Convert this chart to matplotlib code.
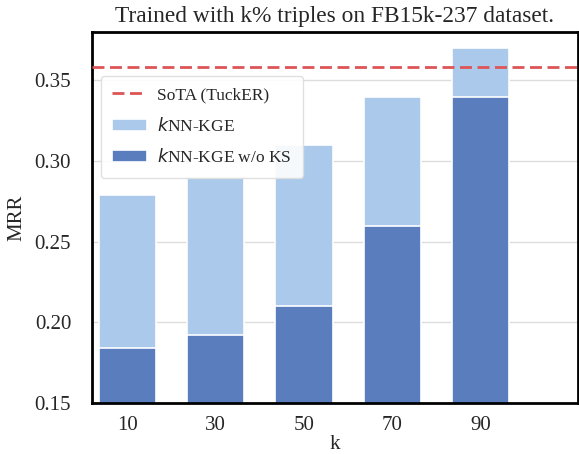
import numpy as np
import matplotlib
matplotlib.use("Agg")
import matplotlib.pyplot as plt
import seaborn as sns

# values
k_values = ["10", "30", "50", "70", "90"]
mrr_knn_kge = [0.279, 0.290, 0.310, 0.340, 0.370]
mrr_wo_ks = [0.184, 0.192, 0.210, 0.260, 0.340]
sota_tucker = 0.358

sns.set_style("whitegrid")
plt.rcParams['font.family'] = ['Liberation Serif', 'DejaVu Serif']
plt.rcParams['mathtext.fontset'] = 'dejavusans'

fig = plt.figure(figsize=(5.79, 4.54), dpi=100)
ax = fig.add_axes([0.159, 0.1123, 0.839, 0.8172])

x = np.arange(len(k_values))
ax.bar(x, mrr_knn_kge, width=0.65, color="#abc9eb", edgecolor="white",
       linewidth=1.2, label=r"$k$NN-KGE", zorder=2)
ax.bar(x, mrr_wo_ks, width=0.65, color="#5a7dbe", edgecolor="white",
       linewidth=1.2, label=r"$k$NN-KGE w/o KS", zorder=2)
ax.axhline(sota_tucker, color="#dd5555", linestyle="--", linewidth=2,
           dashes=(4.3, 2), label="SoTA (TuckER)", zorder=3)

ax.set_xticks(x)
ax.set_xticklabels(k_values)
ax.set_xlim(-0.4, 5.1)
ax.set_ylim(0.15, 0.38)
ax.set_yticks([0.15, 0.20, 0.25, 0.30, 0.35])
ax.set_yticklabels(["0.15", "0.20", "0.25", "0.30", "0.35"])
ax.tick_params(axis='y', labelsize=15, length=0, pad=15)
ax.tick_params(axis='x', labelsize=15, length=0, pad=9)
ax.grid(axis='x', visible=False)
ax.grid(axis='y', color="#dddddd", linewidth=1)
ax.set_axisbelow(True)

for side in ['left', 'bottom', 'top', 'right']:
    ax.spines[side].set_color('black')
    ax.spines[side].set_linewidth(2)

ax.set_xlabel("k", fontsize=15, labelpad=0)
ax.set_ylabel("MRR", fontsize=15, labelpad=6)
ax.set_title("Trained with k% triples on FB15k-237 dataset.", fontsize=16.8, pad=7)

ax.legend(loc='upper left', bbox_to_anchor=(0.0, 0.905), fontsize=12.5,
          frameon=True, framealpha=0.9, edgecolor="#dddddd",
          borderpad=0.65, labelspacing=0.78, handletextpad=0.6)

fig.savefig("out.png", dpi=100)
